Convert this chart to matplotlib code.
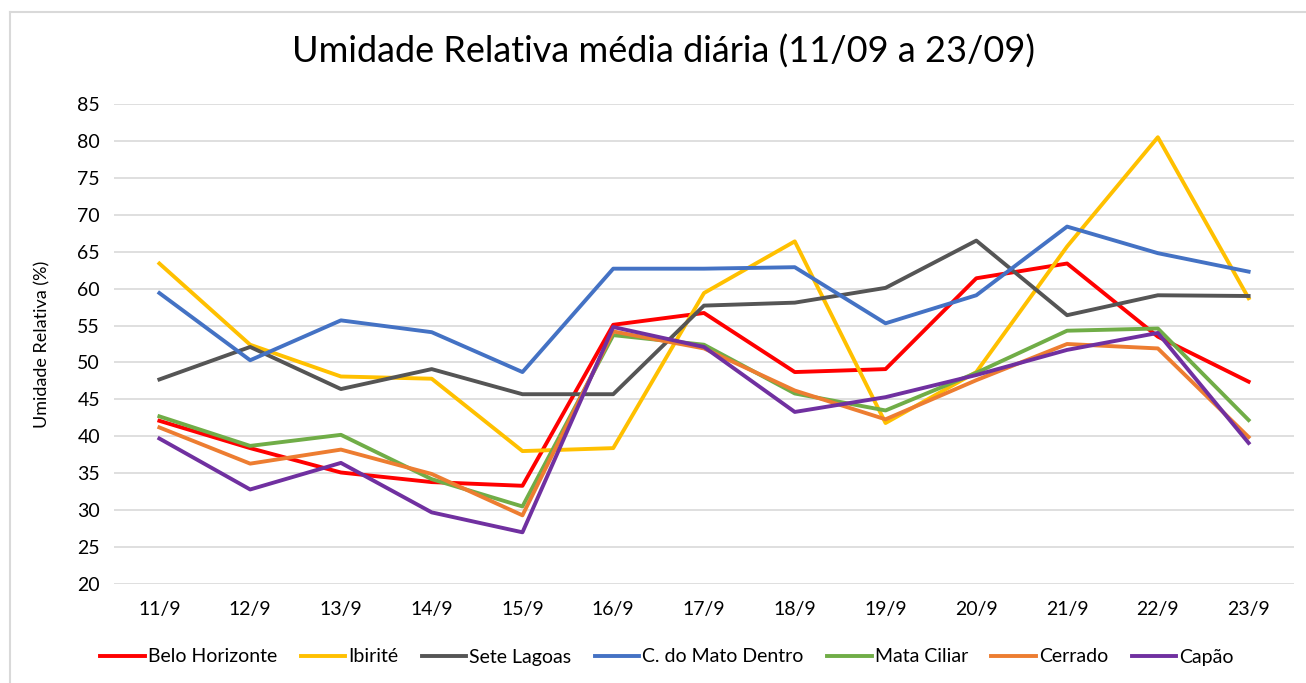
import numpy as np
import matplotlib.pyplot as plt
from matplotlib.lines import Line2D

dias = ["11/9", "12/9", "13/9", "14/9", "15/9", "16/9", "17/9",
        "18/9", "19/9", "20/9", "21/9", "22/9", "23/9"]

belo_horizonte = [42.1, 38.4, 35.1, 33.8, 33.3, 55.1, 56.7, 48.7, 49.1, 61.4, 63.4, 53.5, 47.4]
ibirite = [63.4, 52.4, 48.1, 47.8, 38.0, 38.4, 59.4, 66.4, 41.8, 48.7, 65.7, 80.5, 58.7]
sete_lagoas = [47.7, 52.1, 46.4, 49.1, 45.7, 45.7, 57.7, 58.1, 60.1, 66.5, 56.4, 59.1, 59.0]
mato_dentro = [59.4, 50.3, 55.7, 54.1, 48.7, 62.7, 62.7, 62.9, 55.3, 59.1, 68.4, 64.8, 62.3]
mata_ciliar = [42.7, 38.7, 40.2, 34.2, 30.5, 53.7, 52.4, 45.8, 43.5, 48.6, 54.3, 54.6, 42.2]
cerrado = [41.2, 36.3, 38.2, 34.9, 29.3, 54.2, 51.9, 46.2, 42.3, 47.6, 52.5, 51.9, 39.9]
capao = [39.7, 32.8, 36.4, 29.7, 27.0, 54.8, 52.1, 43.3, 45.3, 48.3, 51.7, 54.0, 39.1]

series = [
    ("Belo Horizonte", belo_horizonte, "#FF0000"),
    ("Ibirité", ibirite, "#FFC000"),
    ("Sete Lagoas", sete_lagoas, "#555555"),
    ("C. do Mato Dentro", mato_dentro, "#4472C4"),
    ("Mata Ciliar", mata_ciliar, "#70AD47"),
    ("Cerrado", cerrado, "#ED7D31"),
    ("Capão", capao, "#7030A0"),
]

plt.rcParams['font.family'] = ['Lato', 'DejaVu Sans']

W, H = 1306, 683
fig = plt.figure(figsize=(W / 100, H / 100), dpi=100)
ax = fig.add_axes([114 / W, 1 - 584 / H, (1294 - 114) / W, (584 - 104) / H])

x = np.arange(len(dias))
for nome, vals, cor in series:
    ax.plot(x, vals, color=cor, lw=2.8, label=nome)

ax.set_xlim(-0.5, len(dias) - 0.5)
ax.set_ylim(20, 85)
ax.set_yticks(np.arange(20, 86, 5))
ax.set_xticks(x)
ax.set_xticklabels(dias)
ax.grid(axis='y', color='#D9D9D9', lw=1.2)
ax.set_axisbelow(True)
for s in ax.spines.values():
    s.set_visible(False)
ax.tick_params(length=0, labelsize=14, colors='#000000', pad=10)
ax.tick_params(axis='x', pad=12)
ax.set_ylabel("Umidade Relativa (%)", fontsize=13)
ax.yaxis.set_label_coords((50 - 114) / (1294 - 114), 0.5)

fig.text(664 / W, 1 - 52 / H, "Umidade Relativa média diária (11/09 a 23/09)",
         ha='center', va='center', fontsize=26)

ax.legend(loc='center', bbox_to_anchor=((667 - 114) / (1294 - 114), (584 - 657) / 480),
          ncol=7, frameon=False, fontsize=14, handlelength=2.3, handletextpad=0.15,
          columnspacing=1.2)

# chart border (left and top edges visible)
border = dict(color='#D9D9D9', lw=1.5, transform=fig.transFigure)
fig.add_artist(Line2D([10 / W, 10 / W], [0, 1 - 12 / H], **border))
fig.add_artist(Line2D([10 / W, 1], [1 - 12 / H, 1 - 12 / H], **border))

fig.savefig("out.png", dpi=100)
